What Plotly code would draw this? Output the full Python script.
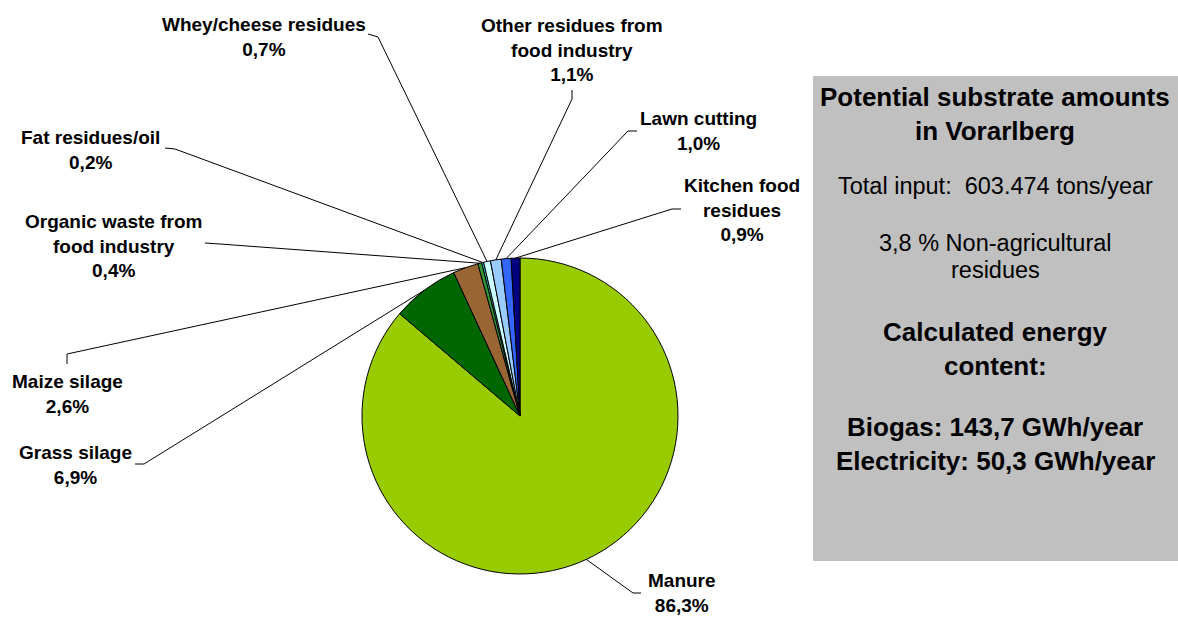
import math
import plotly.graph_objects as go

W, H = 1178, 617

categories = ["Manure", "Grass silage", "Maize silage", "Organic waste from food industry",
              "Fat residues/oil", "Whey/cheese residues", "Other residues from food industry",
              "Lawn cutting", "Kitchen food residues"]
values = [86.3, 6.9, 2.6, 0.4, 0.2, 0.7, 1.1, 1.0, 0.9]
value_labels = ["86,3%", "6,9%", "2,6%", "0,4%", "0,2%", "0,7%", "1,1%", "1,0%", "0,9%"]
label_lines = [["Manure"], ["Grass silage"], ["Maize silage"],
               ["Organic waste from", "food industry"], ["Fat residues/oil"],
               ["Whey/cheese residues"], ["Other residues from", "food industry"],
               ["Lawn cutting"], ["Kitchen food", "residues"]]
colors = ["#99CC00", "#006600", "#996633", "#339933", "#33CCCC",
          "#CCFFFF", "#99CCFF", "#3366FF", "#000080"]

# layout (pixel positions of labels and leader elbows)
cx, cy, R = 520, 416, 158
label_pos = [(682, 593), (75, 465), (67, 394), (113, 246), (91, 150),
             (264, 37), (572, 50), (698, 131), (742, 210)]
elbow = [[(633, 593), (641, 593)], [(144, 464), (135, 464)], [(67, 354), (67, 364)],
         [(220, 244), (205, 243)], [(175, 149), (165, 148)], [(378, 37), (368, 34)],
         [(572, 99), (572, 90)], [(628, 131), (637, 131)], [(672, 209), (681, 209)]]

box_lines = [("Potential substrate amounts", 97, 26, True),
             ("in Vorarlberg", 131, 26, True),
             ("Total input:  603.474 tons/year", 186, 23.5, False),
             ("3,8 % Non-agricultural", 243, 23.5, False),
             ("residues", 270, 23.5, False),
             ("Calculated energy", 332, 26, True),
             ("content:", 366, 26, True),
             ("Biogas: 143,7 GWh/year", 427, 26, True),
             ("Electricity: 50,3 GWh/year", 461, 26, True)]


def px(x):
    return x / W


def py(y):
    return 1 - y / H


FONT = "Liberation Sans, Arial, sans-serif"

fig = go.Figure()
fig.add_trace(go.Pie(
    labels=categories, values=values, sort=False, direction="clockwise", rotation=0,
    marker=dict(colors=colors, line=dict(color="black", width=1)),
    textinfo="none", hoverinfo="label+percent", showlegend=False,
    domain=dict(x=[px(cx - R), px(cx + R)], y=[py(cy + R), py(cy - R)]),
))

total = sum(values)
cum = 0.0
shapes = []
annotations = []
for i, v in enumerate(values):
    th = 2 * math.pi * (cum + v / 2) / total
    cum += v
    ex = cx + R * math.sin(th)
    ey = cy - R * math.cos(th)
    (x1, y1), (x2, y2) = elbow[i]
    path = f"M {px(ex)},{py(ey)} L {px(x1)},{py(y1)} L {px(x2)},{py(y2)}"
    shapes.append(dict(type="path", xref="paper", yref="paper", path=path,
                       line=dict(color="black", width=1)))
    lines = [f"<b>{t}</b>" for t in label_lines[i]] + [f"<b>{value_labels[i]}</b>"]
    lx, ly = label_pos[i]
    annotations.append(dict(x=px(lx), y=py(ly), xref="paper", yref="paper",
                            text="<br>".join(lines), showarrow=False,
                            xanchor="center", yanchor="middle", align="center",
                            font=dict(family=FONT, size=19, color="black")))

# info box
shapes.append(dict(type="rect", xref="paper", yref="paper",
                   x0=px(813), x1=px(1178), y0=py(561), y1=py(76),
                   fillcolor="#C0C0C0", line=dict(width=0), layer="below"))
for text, y, size, bold in box_lines:
    annotations.append(dict(x=px(995), y=py(y), xref="paper", yref="paper",
                            text=f"<b>{text}</b>" if bold else text, showarrow=False,
                            xanchor="center", yanchor="middle",
                            font=dict(family=FONT, size=size, color="black")))

fig.update_layout(width=W, height=H, margin=dict(l=0, r=0, t=0, b=0),
                  paper_bgcolor="white", plot_bgcolor="white",
                  shapes=shapes, annotations=annotations)
fig.write_html("out.html", config={"displayModeBar": False},
               post_script="document.body.style.margin='0';document.body.style.overflow='hidden';")
